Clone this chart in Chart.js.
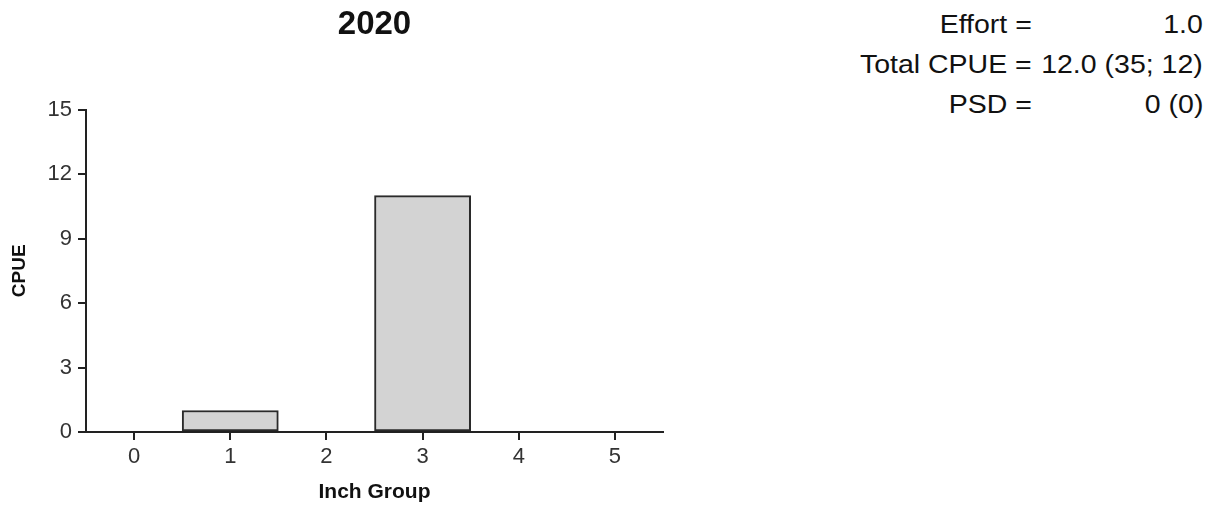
<!DOCTYPE html>
<html>
<head>
<meta charset="utf-8">
<script src="https://cdn.jsdelivr.net/npm/chart.js@4"></script>
<style>
    body { margin: 0; background: #fff; font-family: "Liberation Sans", Arial, sans-serif; }
    #wrap { position: absolute; left: 0; top: 0; width: 700px; height: 508px; }
    #stats { position: absolute; left: 820px; top: 4px; border-collapse: collapse; font-size: 25px; color: #111; }
    #stats td { padding: 0; height: 40px; white-space: pre; text-align: right; }
    #stats td.lbl { width: 212px; }
    #stats td.val { width: 171px; }
    #stats span { display: inline-block; transform: scaleX(1.14); transform-origin: right center; }
</style>
</head>
<body>
<div id="wrap"><canvas id="canvas"></canvas></div>
<table id="stats"></table>
<script>
let inchGroups = ['0', '1', '2', '3', '4', '5'];
let cpue = [0, 1, 0, 11, 0, 0];
let yearTitle = '2020';
let statLabels = ['Effort =', 'Total CPUE =', 'PSD ='];
let statValues = ['1.0', '12.0 (35; 12)', '0 (0)'];

// stats block on the right
let table = document.getElementById('stats');
statLabels.forEach(function(lbl, i){
    let row = table.insertRow();
    let a = row.insertCell(); a.className = 'lbl';
    a.innerHTML = '<span></span>'; a.firstChild.textContent = lbl;
    let b = row.insertCell(); b.className = 'val';
    b.innerHTML = '<span></span>'; b.firstChild.textContent = statValues[i];
});

const ctx = document.getElementById('canvas').getContext('2d');
const myChart = new Chart(ctx, {
    type: 'bar',
    data: {
        labels: inchGroups,
        datasets: [{
            data: cpue,
            backgroundColor: '#d3d3d3',
            borderColor: '#2a2a2a',
            borderWidth: 2,
            borderSkipped: false,
            barPercentage: 1,
            categoryPercentage: 1
        }]
    },
    options: {
        responsive: true,
        maintainAspectRatio: false,
        animation: false,
        layout: {
            padding: { left: 0, right: 37, top: 0, bottom: 0 }
        },
        scales: {
            x: {
                grid: {
                    offset: false,
                    drawOnChartArea: false,
                    drawTicks: true,
                    tickLength: 8,
                    color: '#222',
                    lineWidth: 2
                },
                border: { display: true, color: '#222', width: 2 },
                ticks: {
                    color: '#333',
                    font: { family: 'Liberation Sans', size: 22 },
                    padding: 4,
                    maxRotation: 0
                },
                title: {
                    display: true,
                    text: 'Inch Group',
                    color: '#111',
                    font: { family: 'Liberation Sans', size: 21, weight: 'bold' },
                    padding: { top: 2, bottom: 3 }
                },
                afterFit: function(scale){ scale.height = 76; }
            },
            y: {
                min: 0,
                max: 15,
                grid: {
                    drawOnChartArea: false,
                    drawTicks: true,
                    tickLength: 8,
                    color: '#222',
                    lineWidth: 2
                },
                border: { display: true, color: '#222', width: 2 },
                ticks: {
                    stepSize: 3,
                    color: '#333',
                    font: { family: 'Liberation Sans', size: 22 },
                    padding: 6
                },
                title: {
                    display: true,
                    text: 'CPUE',
                    color: '#111',
                    font: { family: 'Liberation Sans', size: 19, weight: 'bold' },
                    padding: { top: 8, bottom: 2 }
                },
                afterFit: function(scale){ scale.width = 86; }
            }
        },
        plugins: {
            legend: { display: false },
            tooltip: { enabled: false },
            title: {
                display: true,
                text: yearTitle,
                fullSize: false,
                color: '#111',
                font: { family: 'Liberation Sans', size: 33, weight: 'bold' },
                padding: { top: 5, bottom: 65 }
            }
        }
    }
});
</script>
</body>
</html>
